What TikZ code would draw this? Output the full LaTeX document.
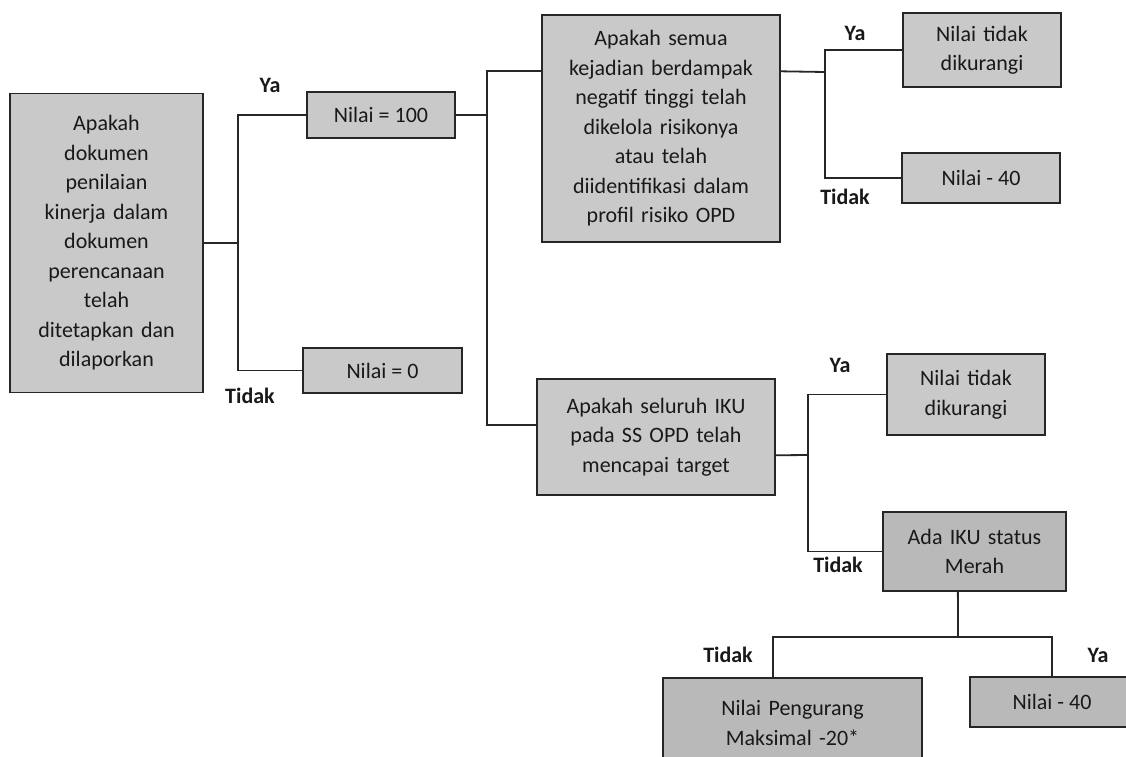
\documentclass[tikz,border=0pt]{standalone}
\usepackage{fontspec}
\setmainfont{Carlito}
\usetikzlibrary{calc}
\begin{document}
\begin{tikzpicture}[x=1pt,y=-1pt,
  every node/.style={font=\fontsize{22}{29.5}\selectfont, text=black!90},
  box/.style={draw=black!85, line width=1.8pt, fill=gray!42, align=center, inner sep=2pt},
  dbox/.style={box, fill=gray!55},
  lbl/.style={font=\fontsize{22}{26}\selectfont\bfseries},
  conn/.style={draw=black!85, line width=1.8pt}
]
\clip (0,0) rectangle (1126,756);
\fill[white] (0,0) rectangle (1126,756);

% nodes
\node[box, minimum width=193pt, minimum height=299pt, text width=185pt] (A) at (106.5,243)
  {Apakah\\dokumen\\penilaian\\kinerja dalam\\dokumen\\perencanaan\\telah\\ditetapkan dan\\dilaporkan};
\node[box, minimum width=148pt, minimum height=46pt] (n100) at (381,115) {Nilai = 100};
\node[box, minimum width=159pt, minimum height=45pt] (n0) at (382.5,370.5) {Nilai = 0};
\node[box, minimum width=238pt, minimum height=227pt, text width=230pt] (B) at (661,128.5)
  {Apakah semua\\kejadian berdampak\\negatif tinggi telah\\dikelola risikonya\\atau telah\\diidentifikasi dalam\\profil risiko OPD};
\node[box, minimum width=238pt, minimum height=116pt, text width=230pt] (C) at (656,437)
  {Apakah seluruh IKU\\pada SS OPD telah\\mencapai target};
\node[box, minimum width=158pt, minimum height=74pt, text width=150pt] (T1) at (982,50)
  {Nilai tidak\\dikurangi};
\node[box, minimum width=158pt, minimum height=50pt] (T2) at (981,178) {Nilai - 40};
\node[box, minimum width=158pt, minimum height=81pt, text width=150pt] (T3) at (966,394.5)
  {Nilai tidak\\dikurangi};
\node[dbox, minimum width=183pt, minimum height=79pt, text width=175pt] (D) at (974.5,551.5)
  {Ada IKU status\\Merah};
\node[dbox, minimum width=259pt, minimum height=90pt, text width=250pt] (E) at (792.5,723)
  {Nilai Pengurang\\Maksimal -20*};
\node[dbox, minimum width=164pt, minimum height=50pt] (F) at (1052,702) {Nilai - 40};

% junction coordinates
\coordinate (j1) at (238,243);
\coordinate (j2) at (487,115);
\coordinate (Bw) at ($(B.north west)!0.25!(B.south west)$);
\coordinate (Be) at ($(B.north east)!0.25!(B.south east)$);
\coordinate (Cw) at ($(C.north west)!0.4!(C.south west)$);
\coordinate (Ce) at ($(C.north east)!0.655!(C.south east)$);
\coordinate (j3) at (825,72);
\coordinate (j4) at (808,455);
\coordinate (Ds) at ($(D.south west)!0.41!(D.south east)$);
\coordinate (j5) at (958,637);
\coordinate (En) at ($(E.north west)!0.425!(E.north east)$);

% connectors
\draw[conn] (A.east) -- (j1);
\draw[conn] (n100.west) -| (j1) |- (n0.west);
\draw[conn] (n100.east) -- (j2);
\draw[conn] (Bw) -| (j2) |- (Cw);
\draw[conn] (Be) -- (j3);
\draw[conn] (T1.west) -| (j3) |- (T2.west);
\draw[conn] (Ce) -- (j4);
\draw[conn] (T3.west) -| (j4) |- (D.west);
\draw[conn] (Ds) -- (j5);
\draw[conn] (En) |- (j5) -| (F.north);

% labels
\node[lbl] (l1) at (270,85) {Ya};
\node[lbl] (l2) at (250,396) {Tidak};
\node[lbl] (l3) at (855,33) {Ya};
\node[lbl] (l4) at (845,197) {Tidak};
\node[lbl] (l5) at (840,365) {Ya};
\node[lbl] (l6) at (838,565) {Tidak};
\node[lbl] (l7) at (728,655) {Tidak};
\node[lbl] (l8) at (1098,655) {Ya};
\end{tikzpicture}
\end{document}
